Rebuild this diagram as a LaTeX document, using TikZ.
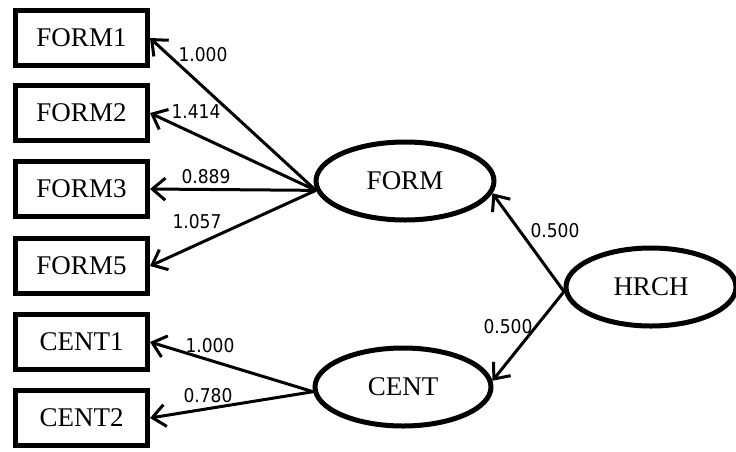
\documentclass[tikz,border=0pt]{standalone}
\usepackage{fontspec}
\setmainfont{Liberation Serif}
\newfontfamily\numfont{DejaVu Sans Condensed}
\usetikzlibrary{arrows.meta,shapes.geometric}

\begin{document}
\begin{tikzpicture}[x=1pt, y=-1pt,
        >={Straight Barb[length=13pt, width=22pt]},
        item/.style={draw, line width=5pt, minimum width=132pt, minimum height=55pt, font=\fontsize{27}{30}\selectfont},
        latent/.style={draw, ellipse, line width=5pt, inner sep=0pt, font=\fontsize{27}{30}\selectfont},
        path/.style={->, line width=3pt},
        load/.style={font=\numfont\fontsize{19}{20}\selectfont, inner sep=0pt}]
    \useasboundingbox (0,0) rectangle (736,451);

    % indicators
    \node[item] (form1) at (81.5,38)  {FORM1};
    \node[item] (form2) at (81.5,113) {FORM2};
    \node[item] (form3) at (81.5,189) {FORM3};
    \node[item] (form5) at (81.5,266) {FORM5};
    \node[item] (cent1) at (81.5,342) {CENT1};
    \node[item] (cent2) at (81.5,418) {CENT2};

    % factors
    \node[latent, minimum width=178pt, minimum height=78pt] (form) at (405,181) {FORM};
    \node[latent, minimum width=176pt, minimum height=78pt] (cent) at (403,387) {CENT};
    \node[latent, minimum width=170pt, minimum height=78pt] (hrch) at (651,287) {HRCH};

    % loadings
    \draw[path] (form.186) -- (form1.east);
    \draw[path] (form.186) -- (form2.east);
    \draw[path] (form.186) -- (form3.east);
    \draw[path] (form.186) -- (form5.east);
    \draw[path] (cent.183) -- (cent1.east);
    \draw[path] (cent.183) -- (cent2.east);
    \draw[path] (hrch.183) -- (form.-8);
    \draw[path] (hrch.183) -- (cent.4);

    \node[load] (l1) at (203,55)  {1.000};
    \node[load] (l2) at (196,112) {1.414};
    \node[load] (l3) at (206,177) {0.889};
    \node[load] (l5) at (197,222) {1.057};
    \node[load] (c1) at (210,346) {1.000};
    \node[load] (c2) at (208,396) {0.780};
    \node[load] (h1) at (555,231) {0.500};
    \node[load] (h2) at (508,327) {0.500};
\end{tikzpicture}
\end{document}
